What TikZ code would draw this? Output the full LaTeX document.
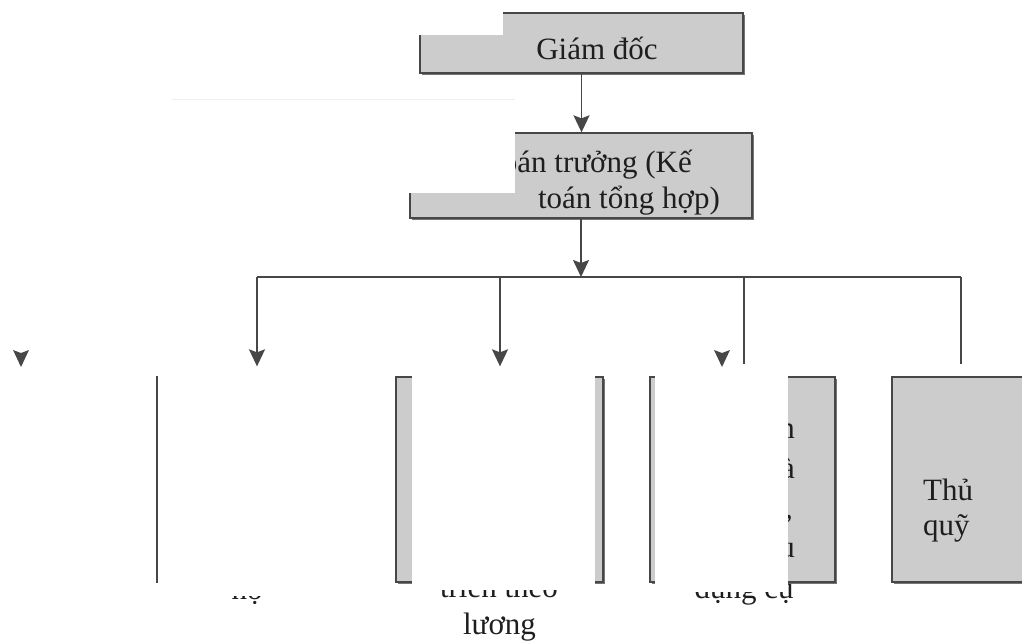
\documentclass[tikz,border=0pt]{standalone}
\usepackage{fontspec}
\setmainfont{Liberation Serif}
\usetikzlibrary{arrows.meta,shadows}
\definecolor{boxfill}{HTML}{CCCCCC}
\definecolor{edge}{HTML}{474747}
\definecolor{ink}{HTML}{1E1E1E}
\begin{document}
\begin{tikzpicture}[x=1pt,y=-1pt,
  box/.style={draw=edge, line width=1.3pt, fill=boxfill, inner sep=0pt,
    drop shadow={shadow xshift=2.2pt, shadow yshift=-2.2pt, fill=black!60, opacity=0.9}},
  wire/.style={draw=edge, line width=1.8pt},
  tip/.style={-{Stealth[width=16pt,length=17pt,inset=3pt]}},
  lbl/.style={font=\fontsize{31}{36}\selectfont, text=ink, inner sep=0pt},
  patch/.style={fill=white, draw=none}]
\useasboundingbox (0,0) rectangle (1022,644);

% faint rule
\draw[black!6, line width=1pt] (172,100) -- (515,100);

% boxes
\node[box, minimum width=323pt, minimum height=60pt] (gd) at (581.5,43) {};
\node[box, minimum width=342pt, minimum height=85pt] (kt) at (581,175.5) {};
\node[box, minimum width=205pt, minimum height=205pt] (bB) at (259.5,479.5) {};
\node[box, minimum width=207pt, minimum height=205pt] (bC) at (499.5,479.5) {};
\node[box, minimum width=185pt, minimum height=205pt] (bD) at (742.5,479.5) {};
\node[box, minimum width=138pt, minimum height=205pt] (bE) at (961,479.5) {};

% labels
\node[lbl, anchor=base] (tgd) at (597,60) {Giám đốc};
\node[lbl, anchor=base east] (tkt1) at (692,173) {Kế toán trưởng (Kế};
\node[lbl, anchor=base east] (tkt2) at (720,209) {toán tổng hợp)};
\node[lbl, anchor=base west] (tE1) at (923,500) {Thủ};
\node[lbl, anchor=base west] (tE2) at (923,535) {quỹ};
\node[lbl, anchor=base east] (tD1) at (795,438) {n};
\node[lbl, anchor=base east] (tD2) at (795,478) {à};
\node[lbl, anchor=base east] (tD3) at (793,518) {,};
\node[lbl, anchor=base east] (tD4) at (795,557) {u};
\node[lbl, anchor=base] (tB) at (247,599) {hộ};
\node[lbl, anchor=base] (tC1) at (499,597) {triển theo};
\node[lbl, anchor=base] (tC2) at (499.5,634) {lương};
\node[lbl, anchor=base] (tD5) at (744,598) {dụng cụ};

% connectors
\coordinate (busL) at (257,277);
\coordinate (busC) at (500,277);
\coordinate (busD) at (744,277);
\coordinate (busR) at (961,277);
\draw[wire,tip] (gd.south) -- (gd.south |- kt.north);
\draw[wire,tip] (kt.south) -- (kt.south |- busL);
\draw[wire] (busL) -- (busR);
\draw[wire,tip,shorten >=10pt] (busL) -- (busL |- bB.north);
\draw[wire,tip,shorten >=10pt] (busC) -- (busC |- bC.north);
\draw[wire,shorten >=12pt] (busD) -- (busD |- bD.north);
\draw[wire,shorten >=12pt] (busR) -- (busR |- bE.north);

% loose arrow heads
\coordinate (fa1) at (21,367);
\coordinate (fa2) at (722,367);
\foreach \p in {fa1,fa2}
  \fill[edge] (\p) -- ++(-8,-17) -- ++(8,3) -- ++(8,-3) -- cycle;

% white cover-ups
\fill[patch] (405,0) rectangle (503,35);
\fill[patch] (395,120) rectangle (515,193);
\fill[patch] (158.4,370) rectangle (392,596);
\fill[patch] (412,370) rectangle (595,590);
\fill[patch] (655,370) rectangle (788,592);
\end{tikzpicture}
\end{document}
